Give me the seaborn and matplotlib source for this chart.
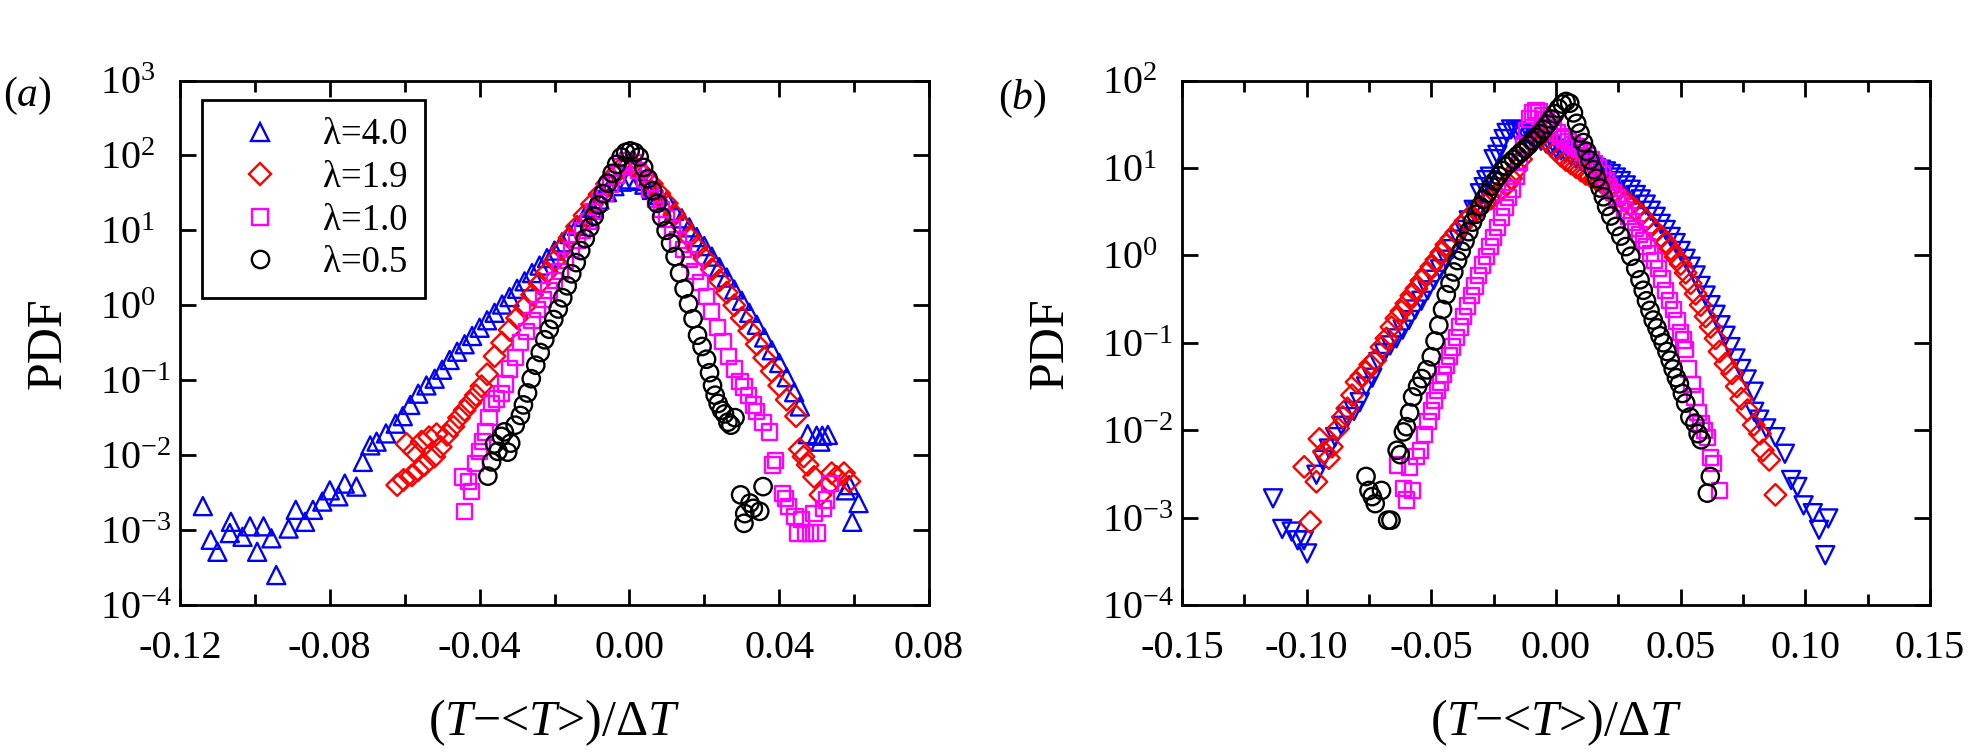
import numpy as np
import matplotlib
matplotlib.use("Agg")
import matplotlib.pyplot as plt
import matplotlib.ticker as mticker
from matplotlib.lines import Line2D
import seaborn as sns

# ---------------- data: (x, log10 PDF) ----------------
series_labels = ["λ=4.0", "λ=1.9", "λ=1.0", "λ=0.5"]

a_lam40 = [(-0.1139, -2.68), (-0.1118, -3.13), (-0.1100, -3.29), (-0.1067, -3.04), (-0.1064, -2.89),
           (-0.1033, -3.09), (-0.1013, -2.95), (-0.0994, -3.29), (-0.0977, -2.95), (-0.0956, -3.11),
           (-0.0943, -3.60), (-0.0910, -2.98), (-0.0891, -2.73), (-0.0866, -2.89), (-0.0845, -2.73),
           (-0.0820, -2.62), (-0.0800, -2.47), (-0.0777, -2.55), (-0.0760, -2.38), (-0.0729, -2.42),
           (-0.0712, -2.09), (-0.0692, -1.87), (-0.0675, -1.82), (-0.0650, -1.71), (-0.0624, -1.58),
           (-0.0605, -1.48), (-0.0585, -1.33), (-0.0564, -1.18), (-0.0542, -1.07), (-0.0520, -0.98),
           (-0.0500, -0.86), (-0.0480, -0.73), (-0.0460, -0.62), (-0.0440, -0.52), (-0.0420, -0.41),
           (-0.0400, -0.30), (-0.0380, -0.20), (-0.0360, -0.10), (-0.0340, 0.01), (-0.0320, 0.11),
           (-0.0300, 0.22), (-0.0280, 0.32), (-0.0260, 0.43), (-0.0240, 0.53), (-0.0220, 0.63),
           (-0.0200, 0.73), (-0.0180, 0.84), (-0.0160, 0.95), (-0.0140, 1.06), (-0.0120, 1.18),
           (-0.0100, 1.30), (-0.0080, 1.41), (-0.0060, 1.51), (-0.0040, 1.59), (-0.0020, 1.65),
           (0.0000, 1.68), (0.0020, 1.66), (0.0040, 1.61), (0.0060, 1.54), (0.0080, 1.47),
           (0.0100, 1.40), (0.0120, 1.26), (0.0140, 1.16), (0.0160, 1.04), (0.0180, 0.91),
           (0.0200, 0.79), (0.0220, 0.65), (0.0240, 0.51), (0.0260, 0.37), (0.0280, 0.21),
           (0.0300, 0.06), (0.0320, -0.10), (0.0340, -0.26), (0.0360, -0.43), (0.0380, -0.60),
           (0.0400, -0.77), (0.0420, -0.96), (0.0440, -1.16), (0.0455, -1.35), (0.0476, -1.72),
           (0.0500, -1.74), (0.0510, -1.82), (0.0515, -1.74), (0.0530, -1.73), (0.0578, -2.47),
           (0.0587, -2.40), (0.0595, -2.89), (0.0612, -2.64)]

a_lam19 = [(-0.0620, -2.40), (-0.0603, -2.33), (-0.0595, -1.85), (-0.0581, -2.27), (-0.0575, -1.95),
           (-0.0564, -2.20), (-0.0555, -1.82), (-0.0547, -2.13), (-0.0535, -1.76), (-0.0521, -2.02),
           (-0.0515, -1.72), (-0.0504, -1.89), (-0.0487, -1.73), (-0.0470, -1.62), (-0.0455, -1.50),
           (-0.0440, -1.40), (-0.0425, -1.30), (-0.0410, -1.20), (-0.0395, -1.08), (-0.0380, -0.92),
           (-0.0360, -0.68), (-0.0340, -0.50), (-0.0320, -0.33), (-0.0300, -0.17), (-0.0280, -0.02),
           (-0.0260, 0.14), (-0.0240, 0.29), (-0.0220, 0.44), (-0.0200, 0.59), (-0.0180, 0.75),
           (-0.0160, 0.90), (-0.0140, 1.05), (-0.0120, 1.20), (-0.0100, 1.35), (-0.0080, 1.48),
           (-0.0060, 1.62), (-0.0040, 1.74), (-0.0020, 1.84), (0.0000, 1.88), (0.0020, 1.82),
           (0.0040, 1.74), (0.0060, 1.62), (0.0080, 1.49), (0.0100, 1.36), (0.0120, 1.21),
           (0.0140, 1.06), (0.0160, 0.91), (0.0180, 0.77), (0.0200, 0.63), (0.0220, 0.48),
           (0.0240, 0.33), (0.0260, 0.17), (0.0280, 0.00), (0.0300, -0.17), (0.0320, -0.34),
           (0.0340, -0.52), (0.0360, -0.70), (0.0380, -0.88), (0.0400, -1.07), (0.0420, -1.26),
           (0.0445, -1.48), (0.0455, -1.92), (0.0465, -2.02), (0.0476, -2.13), (0.0493, -2.29),
           (0.0510, -2.53), (0.0536, -2.38), (0.0540, -2.24), (0.0553, -2.29), (0.0573, -2.24),
           (0.0587, -2.35)]

a_lam10 = [(-0.0444, -2.29), (-0.0441, -2.75), (-0.0430, -2.35), (-0.0422, -2.49), (-0.0410, -2.11),
           (-0.0400, -1.95), (-0.0393, -1.82), (-0.0385, -1.69), (-0.0375, -1.50), (-0.0368, -1.31),
           (-0.0355, -1.25), (-0.0342, -1.18), (-0.0330, -1.05), (-0.0320, -0.85), (-0.0305, -0.70),
           (-0.0290, -0.50), (-0.0275, -0.35), (-0.0260, -0.20), (-0.0245, -0.06), (-0.0230, 0.08),
           (-0.0215, 0.20), (-0.0200, 0.33), (-0.0185, 0.45), (-0.0170, 0.60), (-0.0155, 0.74),
           (-0.0140, 0.86), (-0.0125, 1.00), (-0.0110, 1.12), (-0.0095, 1.25), (-0.0080, 1.38),
           (-0.0065, 1.50), (-0.0050, 1.62), (-0.0035, 1.74), (-0.0020, 1.85), (-0.0005, 1.93),
           (0.0010, 1.90), (0.0025, 1.80), (0.0040, 1.68), (0.0055, 1.55), (0.0070, 1.42),
           (0.0085, 1.28), (0.0100, 1.15), (0.0115, 1.02), (0.0130, 0.87), (0.0145, 0.74),
           (0.0160, 0.61), (0.0175, 0.45), (0.0190, 0.30), (0.0205, 0.12), (0.0220, -0.08),
           (0.0235, -0.30), (0.0250, -0.48), (0.0265, -0.68), (0.0280, -0.85), (0.0295, -1.02),
           (0.0306, -1.09), (0.0318, -1.20), (0.0331, -1.33), (0.0340, -1.42), (0.0357, -1.56),
           (0.0374, -1.69), (0.0382, -2.13), (0.0391, -2.07), (0.0408, -2.51), (0.0416, -2.58),
           (0.0425, -2.69), (0.0442, -2.82), (0.0450, -3.04), (0.0459, -2.86), (0.0470, -3.04),
           (0.0484, -3.04), (0.0493, -2.78), (0.0501, -3.04), (0.0519, -2.71), (0.0527, -2.60),
           (0.0536, -2.38)]

a_lam05 = [(-0.0378, -2.28), (-0.0368, -2.09), (-0.0360, -1.85), (-0.0351, -1.95), (-0.0342, -1.75),
           (-0.0334, -1.69), (-0.0325, -1.96), (-0.0317, -1.84), (-0.0305, -1.60), (-0.0291, -1.47),
           (-0.0283, -1.33), (-0.0272, -1.17), (-0.0262, -0.98), (-0.0250, -0.80), (-0.0238, -0.63),
           (-0.0226, -0.46), (-0.0214, -0.32), (-0.0202, -0.19), (-0.0190, -0.05), (-0.0178, 0.10),
           (-0.0166, 0.26), (-0.0154, 0.42), (-0.0142, 0.57), (-0.0130, 0.73), (-0.0118, 0.89),
           (-0.0106, 1.04), (-0.0094, 1.19), (-0.0082, 1.34), (-0.0070, 1.49), (-0.0058, 1.63),
           (-0.0046, 1.76), (-0.0034, 1.88), (-0.0022, 1.98), (-0.0010, 2.04), (0.0002, 2.06),
           (0.0014, 2.04), (0.0026, 1.98), (0.0038, 1.84), (0.0050, 1.69), (0.0062, 1.53),
           (0.0074, 1.36), (0.0086, 1.18), (0.0098, 1.00), (0.0110, 0.83), (0.0122, 0.65),
           (0.0134, 0.43), (0.0146, 0.22), (0.0158, 0.02), (0.0170, -0.18), (0.0182, -0.40),
           (0.0194, -0.55), (0.0206, -0.72), (0.0214, -0.90), (0.0222, -1.07), (0.0229, -1.20),
           (0.0237, -1.31), (0.0246, -1.40), (0.0254, -1.45), (0.0263, -1.56), (0.0271, -1.60),
           (0.0282, -1.50), (0.0297, -2.53), (0.0306, -2.91), (0.0308, -2.78), (0.0322, -2.64),
           (0.0331, -2.71), (0.0348, -2.75), (0.0357, -2.42)]

b_lam40 = [(-0.1135, -2.78), (-0.1098, -3.13), (-0.1060, -3.16), (-0.1036, -3.26), (-0.1011, -3.26),
           (-0.0998, -3.41), (-0.0961, -2.51), (-0.0936, -2.34), (-0.0911, -2.21), (-0.0886, -2.08),
           (-0.0860, -1.95), (-0.0835, -1.85), (-0.0810, -1.78), (-0.0787, -1.68), (-0.0762, -1.50),
           (-0.0737, -1.40), (-0.0712, -1.22), (-0.0690, -1.12), (-0.0665, -1.03), (-0.0640, -0.95),
           (-0.0615, -0.85), (-0.0590, -0.74), (-0.0565, -0.62), (-0.0540, -0.52), (-0.0515, -0.40),
           (-0.0490, -0.28), (-0.0465, -0.16), (-0.0440, -0.05), (-0.0415, 0.07), (-0.0390, 0.18),
           (-0.0370, 0.29), (-0.0350, 0.40), (-0.0330, 0.52), (-0.0315, 0.50), (-0.0305, 0.71),
           (-0.0290, 0.78), (-0.0279, 0.86), (-0.0265, 0.90), (-0.0250, 1.10), (-0.0235, 1.15),
           (-0.0225, 1.24), (-0.0210, 1.33), (-0.0198, 1.40), (-0.0180, 1.44), (-0.0160, 1.42),
           (-0.0140, 1.40), (-0.0120, 1.38), (-0.0100, 1.35), (-0.0080, 1.33), (-0.0060, 1.31),
           (-0.0040, 1.28), (-0.0020, 1.25), (0.0000, 1.22), (0.0020, 1.20), (0.0040, 1.17),
           (0.0060, 1.14), (0.0080, 1.11), (0.0100, 1.08), (0.0120, 1.05), (0.0140, 1.02),
           (0.0160, 1.00), (0.0180, 0.98), (0.0200, 0.96), (0.0220, 0.93), (0.0240, 0.89),
           (0.0260, 0.85), (0.0280, 0.80), (0.0300, 0.75), (0.0320, 0.69), (0.0340, 0.64),
           (0.0360, 0.58), (0.0380, 0.51), (0.0400, 0.44), (0.0420, 0.36), (0.0440, 0.29),
           (0.0460, 0.21), (0.0480, 0.14), (0.0500, 0.05), (0.0520, -0.04), (0.0540, -0.13),
           (0.0560, -0.23), (0.0580, -0.35), (0.0600, -0.46), (0.0620, -0.57), (0.0640, -0.68),
           (0.0660, -0.80), (0.0680, -0.92), (0.0700, -1.05), (0.0720, -1.18), (0.0743, -1.30),
           (0.0765, -1.42), (0.0793, -1.56), (0.0795, -1.79), (0.0815, -1.88), (0.0843, -1.98),
           (0.0880, -2.08), (0.0918, -2.27), (0.0943, -2.57), (0.0968, -2.65), (0.0993, -2.86),
           (0.1030, -2.95), (0.1055, -3.14), (0.1080, -3.43), (0.1092, -3.01)]

b_lam19 = [(-0.1010, -2.42), (-0.0986, -3.05), (-0.0961, -2.59), (-0.0949, -2.10), (-0.0930, -2.25),
           (-0.0911, -2.32), (-0.0899, -2.19), (-0.0874, -1.98), (-0.0855, -1.85), (-0.0837, -1.75),
           (-0.0818, -1.60), (-0.0800, -1.45), (-0.0780, -1.38), (-0.0762, -1.33), (-0.0745, -1.25),
           (-0.0725, -1.20), (-0.0700, -1.05), (-0.0680, -0.95), (-0.0660, -0.82), (-0.0640, -0.72),
           (-0.0620, -0.64), (-0.0600, -0.55), (-0.0580, -0.46), (-0.0560, -0.38), (-0.0540, -0.29),
           (-0.0520, -0.21), (-0.0500, -0.13), (-0.0480, -0.05), (-0.0460, 0.03), (-0.0440, 0.12),
           (-0.0420, 0.19), (-0.0400, 0.26), (-0.0380, 0.33), (-0.0360, 0.40), (-0.0340, 0.46),
           (-0.0320, 0.51), (-0.0300, 0.56), (-0.0280, 0.61), (-0.0260, 0.65), (-0.0240, 0.70),
           (-0.0220, 0.75), (-0.0200, 0.80), (-0.0180, 0.88), (-0.0160, 0.98), (-0.0140, 1.10),
           (-0.0120, 1.22), (-0.0100, 1.30), (-0.0080, 1.35), (-0.0060, 1.36), (-0.0040, 1.32),
           (-0.0020, 1.26), (0.0000, 1.20), (0.0020, 1.14), (0.0040, 1.09), (0.0060, 1.05),
           (0.0080, 1.01), (0.0100, 0.97), (0.0120, 0.93), (0.0140, 0.90), (0.0160, 0.87),
           (0.0180, 0.84), (0.0200, 0.80), (0.0220, 0.76), (0.0240, 0.72), (0.0260, 0.67),
           (0.0280, 0.62), (0.0300, 0.57), (0.0320, 0.52), (0.0340, 0.46), (0.0360, 0.40),
           (0.0380, 0.33), (0.0400, 0.27), (0.0420, 0.22), (0.0440, 0.15), (0.0460, 0.07),
           (0.0480, -0.02), (0.0500, -0.10), (0.0520, -0.20), (0.0540, -0.32), (0.0560, -0.44),
           (0.0580, -0.57), (0.0600, -0.70), (0.0620, -0.82), (0.0640, -0.95), (0.0656, -1.10),
           (0.0680, -1.24), (0.0706, -1.35), (0.0725, -1.50), (0.0743, -1.64), (0.0768, -1.77),
           (0.0793, -1.94), (0.0818, -2.04), (0.0830, -2.23), (0.0855, -2.34), (0.0880, -2.74)]

b_lam10 = [(-0.0637, -2.40), (-0.0612, -2.67), (-0.0600, -2.80), (-0.0587, -2.42), (-0.0575, -2.69),
           (-0.0560, -2.30), (-0.0543, -2.23), (-0.0526, -2.05), (-0.0513, -1.90), (-0.0500, -1.78),
           (-0.0488, -1.66), (-0.0476, -1.55), (-0.0463, -1.45), (-0.0451, -1.36), (-0.0438, -1.26),
           (-0.0426, -1.15), (-0.0414, -1.05), (-0.0400, -0.94), (-0.0385, -0.82), (-0.0370, -0.70),
           (-0.0355, -0.58), (-0.0340, -0.46), (-0.0325, -0.35), (-0.0310, -0.23), (-0.0295, -0.11),
           (-0.0280, -0.01), (-0.0265, 0.10), (-0.0250, 0.20), (-0.0235, 0.32), (-0.0220, 0.44),
           (-0.0205, 0.55), (-0.0190, 0.66), (-0.0175, 0.76), (-0.0160, 0.90), (-0.0145, 1.06),
           (-0.0130, 1.27), (-0.0118, 1.43), (-0.0105, 1.56), (-0.0092, 1.63), (-0.0080, 1.66),
           (-0.0068, 1.64), (-0.0055, 1.60), (-0.0040, 1.55), (-0.0025, 1.50), (-0.0010, 1.46),
           (0.0005, 1.40), (0.0020, 1.36), (0.0035, 1.33), (0.0050, 1.30), (0.0065, 1.27),
           (0.0080, 1.24), (0.0095, 1.21), (0.0110, 1.18), (0.0125, 1.14), (0.0140, 1.09),
           (0.0155, 1.05), (0.0170, 1.00), (0.0185, 0.93), (0.0200, 0.86), (0.0215, 0.79),
           (0.0230, 0.72), (0.0245, 0.66), (0.0260, 0.59), (0.0275, 0.52), (0.0290, 0.45),
           (0.0305, 0.38), (0.0320, 0.31), (0.0335, 0.24), (0.0350, 0.17), (0.0365, 0.10),
           (0.0380, 0.02), (0.0395, -0.06), (0.0410, -0.15), (0.0425, -0.27), (0.0440, -0.40),
           (0.0455, -0.52), (0.0470, -0.62), (0.0485, -0.75), (0.0500, -0.88), (0.0510, -0.97),
           (0.0520, -1.08), (0.0532, -1.30), (0.0545, -1.48), (0.0557, -1.62), (0.0570, -1.80),
           (0.0582, -1.92), (0.0595, -2.00), (0.0607, -2.08), (0.0619, -2.31), (0.0631, -2.38),
           (0.0656, -2.69)]

b_lam05 = [(-0.0762, -2.53), (-0.0750, -2.69), (-0.0737, -2.76), (-0.0725, -2.84), (-0.0700, -2.69),
           (-0.0675, -3.03), (-0.0662, -3.03), (-0.0637, -2.23), (-0.0625, -2.28), (-0.0612, -2.02),
           (-0.0600, -1.96), (-0.0587, -1.80), (-0.0575, -1.62), (-0.0555, -1.50), (-0.0538, -1.41),
           (-0.0518, -1.31), (-0.0500, -1.16), (-0.0485, -0.98), (-0.0470, -0.80), (-0.0455, -0.62),
           (-0.0440, -0.45), (-0.0425, -0.32), (-0.0410, -0.19), (-0.0395, -0.06), (-0.0380, 0.05),
           (-0.0365, 0.16), (-0.0350, 0.27), (-0.0335, 0.38), (-0.0320, 0.47), (-0.0305, 0.56),
           (-0.0290, 0.64), (-0.0275, 0.71), (-0.0260, 0.79), (-0.0245, 0.85), (-0.0230, 0.91),
           (-0.0215, 0.97), (-0.0200, 1.02), (-0.0185, 1.06), (-0.0170, 1.10), (-0.0155, 1.14),
           (-0.0140, 1.18), (-0.0125, 1.22), (-0.0110, 1.26), (-0.0095, 1.31), (-0.0080, 1.35),
           (-0.0065, 1.39), (-0.0050, 1.44), (-0.0035, 1.50), (-0.0020, 1.56), (-0.0005, 1.62),
           (0.0010, 1.68), (0.0025, 1.73), (0.0040, 1.76), (0.0055, 1.74), (0.0070, 1.63),
           (0.0083, 1.51), (0.0096, 1.40), (0.0110, 1.29), (0.0123, 1.19), (0.0136, 1.09),
           (0.0150, 0.98), (0.0163, 0.88), (0.0177, 0.77), (0.0190, 0.67), (0.0203, 0.56),
           (0.0220, 0.45), (0.0240, 0.33), (0.0260, 0.22), (0.0280, 0.10), (0.0300, -0.01),
           (0.0320, -0.15), (0.0337, -0.28), (0.0350, -0.40), (0.0363, -0.52), (0.0377, -0.63),
           (0.0390, -0.74), (0.0405, -0.83), (0.0417, -0.92), (0.0430, -1.00), (0.0445, -1.10),
           (0.0458, -1.20), (0.0470, -1.30), (0.0483, -1.40), (0.0495, -1.47), (0.0507, -1.58),
           (0.0520, -1.69), (0.0537, -1.85), (0.0557, -1.92), (0.0570, -2.04), (0.0582, -2.11),
           (0.0607, -2.72), (0.0619, -2.53)]

a_yticks = [1e-4, 1e-3, 1e-2, 1e-1, 1e0, 1e1, 1e2, 1e3]
b_yticks = [1e-4, 1e-3, 1e-2, 1e-1, 1e0, 1e1, 1e2]

# ---------------- style ----------------
sns.set_theme(style="ticks")
plt.rcParams.update({
    "font.family": ["Liberation Serif", "DejaVu Serif"],
    "mathtext.fontset": "custom",
    "mathtext.rm": "Liberation Serif",
    "mathtext.it": "Liberation Serif:italic",
    "mathtext.bf": "Liberation Serif:bold",
    "axes.unicode_minus": False,
    "axes.linewidth": 2.0,
    "axes.edgecolor": "black",
    "xtick.color": "black",
    "ytick.color": "black",
    "axes.facecolor": "white",
    "figure.facecolor": "white",
    "text.color": "black",
    "axes.labelcolor": "black",
})

colors = ["#0000ff", "#ff0000", "#ff00ff", "#000000"]
ms_sizes = [13, 11, 11, 12.5]
mew = 1.7

W, H = 1971, 755
fig = plt.figure(figsize=(W / 100, H / 100), dpi=100)
axA = fig.add_axes([180 / W, 150 / H, 749 / W, 524.5 / H])
axB = fig.add_axes([1182 / W, 150 / H, 748 / W, 524.5 / H])


def draw(ax, data, marker, color, ms):
    x = np.array([p[0] for p in data])
    y = 10.0 ** np.array([p[1] for p in data])
    sns.scatterplot(x=x, y=y, marker=marker, s=ms ** 2, facecolor="none",
                    edgecolor=color, linewidth=mew, ax=ax, legend=False, zorder=3)


for data, mk, c, ms in zip([a_lam40, a_lam19, a_lam10, a_lam05], ["^", "D", "s", "o"], colors, ms_sizes):
    draw(axA, data, mk, c, ms)
for data, mk, c, ms in zip([b_lam40, b_lam19, b_lam10, b_lam05], ["v", "D", "s", "o"], colors, ms_sizes):
    draw(axB, data, mk, c, ms)

fmt_log = mticker.FuncFormatter(lambda v, p: r"$10^{%d}$" % int(round(np.log10(v))))

for ax, xlim, ylim, yt, xmaj, xmin in [
    (axA, (-0.12, 0.08), (1e-4, 1e3), a_yticks, 0.04, 0.02),
    (axB, (-0.15, 0.15), (1e-4, 1e2), b_yticks, 0.05, 0.025),
]:
    ax.set_yscale("log")
    ax.set_xlim(*xlim)
    ax.set_ylim(*ylim)
    ax.set_yticks(yt)
    ax.yaxis.set_minor_locator(mticker.NullLocator())
    ax.yaxis.set_major_formatter(fmt_log)
    ax.xaxis.set_major_locator(mticker.MultipleLocator(xmaj))
    ax.xaxis.set_minor_locator(mticker.MultipleLocator(xmin))
    ax.xaxis.set_major_formatter(mticker.FormatStrFormatter("%.2f"))
    ax.tick_params(which="both", direction="in", top=True, right=True, width=2, colors="black")
    ax.tick_params(which="major", length=11.5, labelsize=29)
    ax.tick_params(which="minor", length=8)
    ax.tick_params(axis="x", which="major", pad=18)
    ax.tick_params(axis="y", which="major", pad=57.5)
    for lbl in ax.get_yticklabels():
        lbl.set_horizontalalignment("left")
    for sp in ax.spines.values():
        sp.set_linewidth(2)
        sp.set_color("black")
    ax.set_xlabel(r"($\mathit{T}$−<$\mathit{T}$>)/Δ$\mathit{T}$", fontsize=36)
    ax.set_ylabel("PDF", fontsize=36)
    ax.xaxis.set_label_coords(0.5, -0.225)
    ax.xaxis.label.set_verticalalignment("center")
    ax.yaxis.set_label_coords(-0.176, 0.5)
    ax.yaxis.label.set_verticalalignment("center")

# legend in panel (a)
handles = [Line2D([], [], ls="none", marker=mk, mfc="none", mec=c, mew=mew, ms=ms)
           for mk, c, ms in zip(["^", "D", "s", "o"], colors, ms_sizes)]
leg = axA.legend(handles, series_labels, loc="upper left", bbox_to_anchor=(0.029, 0.963),
                 borderaxespad=0, fontsize=26.5, frameon=True, fancybox=False, framealpha=1,
                 edgecolor="black", borderpad=0.49, handlelength=2.18, handletextpad=0.62,
                 labelspacing=0.22)
leg.get_frame().set_linewidth(2)

fig.text(27 / W, 1 - 96 / H, r"($\mathit{a}$)", fontsize=30, ha="center", va="center")
fig.text(1022 / W, 1 - 99 / H, r"($\mathit{b}$)", fontsize=30, ha="center", va="center")

fig.savefig("out.png", dpi=100)
